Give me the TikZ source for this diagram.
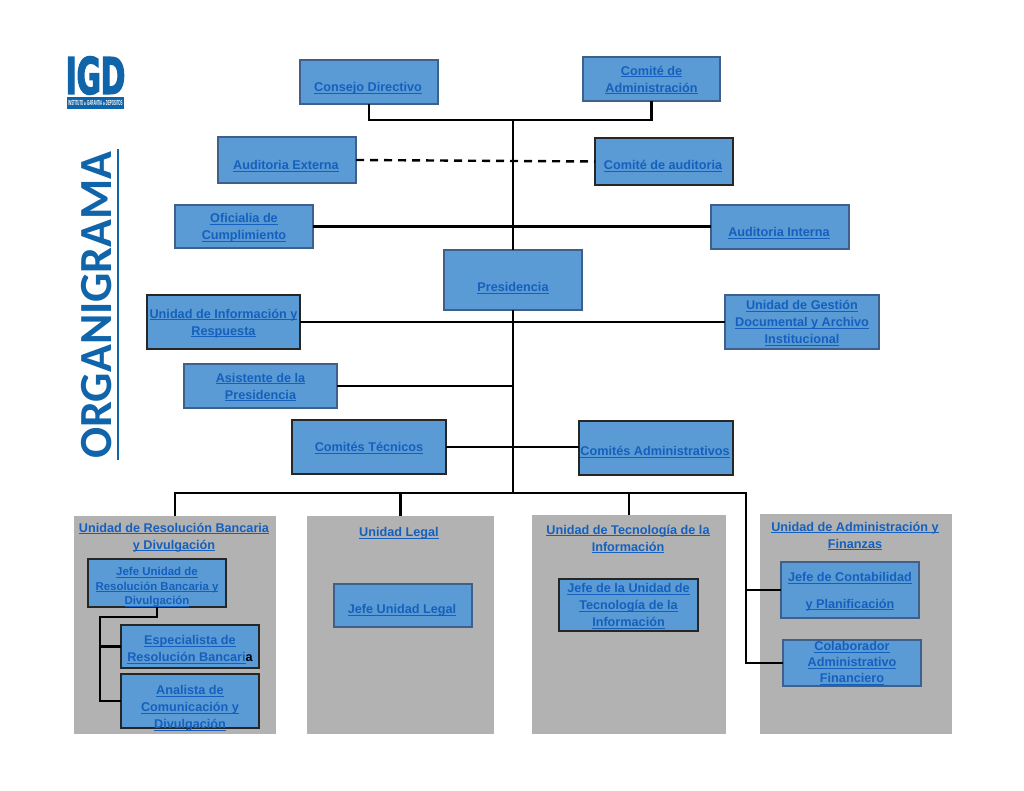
\documentclass[tikz,border=0pt]{standalone}
\usepackage{fontspec}
\setmainfont{Liberation Sans}
\newfontfamily\orgfont{Carlito}
\newfontfamily\logofont[FakeStretch=0.58,FakeBold=2.5]{DejaVu Sans Bold}
\newfontfamily\logosubfont[FakeStretch=0.39]{Liberation Sans Bold}
\usetikzlibrary{positioning}
\definecolor{linkblue}{RGB}{21,96,189}
\definecolor{boxfill}{RGB}{91,155,213}
\definecolor{boxline}{RGB}{62,96,138}
\definecolor{panelgray}{RGB}{178,178,178}
\definecolor{logoblue}{RGB}{16,100,170}
\newcommand{\lnk}[1]{\vphantom{gy}\rule{0pt}{0.95em}\setbox0\hbox{#1}\rlap{\rule[-1.6pt]{\wd0}{0.7pt}}\box0 }

\begin{document}
\begin{tikzpicture}[
  x=0.75pt, y=-0.75pt,
  sz/.style 2 args={minimum width=#1*0.75pt, minimum height=#2*0.75pt},
  unit/.style={draw=boxline, fill=boxfill, line width=0.9pt, inner sep=0pt, outer sep=0pt},
  dark/.style={unit, draw=black!85, line width=1.4pt},
  panel/.style={fill=panelgray, inner sep=0pt, outer sep=0pt},
  lbl/.style={text=linkblue, align=center, inner sep=0pt, font=\bfseries\fontsize{9.5}{12.75}\selectfont},
  smalllbl/.style={lbl, font=\bfseries\fontsize{8.6}{11}\selectfont},
  link/.style={draw=black, line width=1.8pt},
  dashlink/.style={link, dash pattern=on 6pt off 4.5pt},
]
\useasboundingbox (0,0) rectangle (1024,791);
% ------------------------------------------------------------------ logo and title
\node[text=logoblue, inner sep=0pt, font=\logofont\fontsize{38}{38}\selectfont] (logo) at (95.5,75.5) {IGD};
\node[fill=logoblue, text=white, inner sep=0pt, minimum width=42.75pt, minimum height=9pt, font=\logosubfont\fontsize{5.5}{5.5}\selectfont] (logosub) at (95.5,103)
  {INSTITUTO {\fontsize{3.5}{4}\selectfont de} GARANTIA {\fontsize{3.5}{4}\selectfont de} DEPOSITOS};
\node[text=logoblue, rotate=90, inner sep=0pt, font=\orgfont\bfseries\fontsize{34.5}{36}\selectfont] (titulo) at (97,305) {ORGANIGRAMA};
\node[fill=logoblue, inner sep=0pt, minimum width=2.2pt, minimum height=233pt] (tituloline) at (118,304.5) {};

% ------------------------------------------------------------------ panels
\node[panel, sz={202}{218}] (p1) at (175,625) {};
\node[panel, sz={187}{218}] (p2) at (400.5,625) {};
\node[panel, sz={194}{219}] (p3) at (629,624.5) {};
\node[panel, sz={192}{220}] (p4) at (856,624) {};

\node[lbl] (p1t) at (174,536) {\lnk{Unidad de Resolución Bancaria}\\\lnk{y Divulgación}};
\node[lbl] (p2t) at (399,532) {\lnk{Unidad Legal}};
\node[lbl] (p3t) at (628,538) {\lnk{Unidad de Tecnología de la}\\\lnk{Información}};
\node[lbl] (p4t) at (855,535) {\lnk{Unidad de Administración y}\\\lnk{Finanzas}};

% ------------------------------------------------------------------ upper boxes
\node[unit, sz={138}{44}] (consejo) at (369,82) {};
\node[lbl] (consejot) at (368,87) {\lnk{Consejo Directivo}};
\node[unit, sz={137}{44}, lbl] (comiteadm) at (651.5,79) {\lnk{Comité de}\\\lnk{Administración}};
\node[unit, sz={138}{46}] (audext) at (287,160) {};
\node[lbl] (audextt) at (286,165) {\lnk{Auditoria Externa}};
\node[dark, sz={138}{47}] (comaud) at (664,161.5) {};
\node[lbl] (comaudt) at (663,165) {\lnk{Comité de auditoria}};
\node[unit, sz={138}{43}, lbl] (oficialia) at (244,226.5) {\lnk{Oficialia de}\\\lnk{Cumplimiento}};
\node[unit, sz={138}{44}] (audint) at (780,227) {};
\node[lbl] (audintt) at (779,232) {\lnk{Auditoria Interna}};
\node[unit, sz={138}{60}] (pres) at (513,280) {};
\node[lbl] (prest) at (513,287) {\lnk{Presidencia}};
\node[dark, sz={153}{54}, lbl] (uinfo) at (223.5,322) {\lnk{Unidad de Información y}\\\lnk{Respuesta}};
\node[unit, sz={154}{54}, lbl] (ugestion) at (802,322) {\lnk{Unidad de Gestión}\\\lnk{Documental y Archivo}\\\lnk{Institucional}};
\node[unit, sz={153}{44}, lbl] (asistente) at (260.5,386) {\lnk{Asistente de la}\\\lnk{Presidencia}};
\node[dark, sz={154}{54}, lbl] (comtec) at (369,447) {\lnk{Comités Técnicos}};
\node[dark, sz={154}{54}] (comadm) at (656,448) {};
\node[lbl] (comadmt) at (655,451) {\lnk{Comités Administrativos}};

% ------------------------------------------------------------------ boxes inside the panels
\node[dark, sz={138}{48}] (jefe1) at (157,583) {};
\node[smalllbl] (jefe1t) at (157,586) {\lnk{Jefe Unidad de}\\\lnk{Resolución Bancaria y}\\\lnk{Divulgación}};
\node[dark, sz={138}{43}] (esp) at (190,646.5) {};
\node[lbl] (espt) at (190,648.5) {\lnk{Especialista de}\\\lnk{Resolución Bancari}{\color{black}a}};
\node[dark, sz={138}{54}] (ana) at (190,701) {};
\node[lbl] (anat) at (190,707) {\lnk{Analista de}\\\lnk{Comunicación y}\\\lnk{Divulgación}};
\node[unit, sz={138}{43}] (jefelegal) at (403,605.5) {};
\node[lbl] (jefelegalt) at (402,609) {\lnk{Jefe Unidad Legal}};
\node[dark, sz={139}{52}, lbl] (jefeti) at (628.5,605) {\lnk{Jefe de la Unidad de}\\\lnk{Tecnología de la}\\\lnk{Información}};
\node[unit, sz={138}{56}] (jefecont) at (850,590) {};
\node[lbl, font=\bfseries\fontsize{9.5}{20}\selectfont] (jefecontt) at (850,590) {\lnk{Jefe de Contabilidad}\\\lnk{y Planificación}};
\node[unit, sz={138}{46}] (colab) at (852,663) {};
\node[lbl, font=\bfseries\fontsize{9.5}{12}\selectfont] (colabt) at (852,662) {\lnk{Colaborador}\\\lnk{Administrativo}\\\lnk{Financiero}};

% ------------------------------------------------------------------ connectors
\coordinate (topj) at (513,120);
\coordinate (bus) at (513,493);
\coordinate (busr) at (746,493);
\draw[link] (consejo.south) |- (topj);
\draw[link] (comiteadm.south) |- (topj);
\draw[link] (topj) -- (pres.north);
\draw[link] (pres.south) -- (bus);
\draw[dashlink] (audext.east) -- (comaud.west);
\draw[link] (oficialia.east) -- (oficialia.east -| audint.west);
\draw[link] (uinfo.east) -- (ugestion.west);
\draw[link] (asistente.east) -- (asistente.east -| pres.south);
\draw[link] (comtec.east) -- (comtec.east -| comadm.west);
\draw[link] (p1.north) |- (bus);
\draw[link] (p2.north) -- (p2.north |- bus);
\draw[link] (p3.north) -- (p3.north |- bus);
\draw[link] (bus) -- (busr) |- (colab.west);
\draw[link] (jefecont.west) -| (busr);
\coordinate (jefej) at (100,617);
\draw[link] (jefe1.south) |- (jefej) |- (ana.west);
\draw[link] (esp.west) -| (jefej);
\end{tikzpicture}
\end{document}
